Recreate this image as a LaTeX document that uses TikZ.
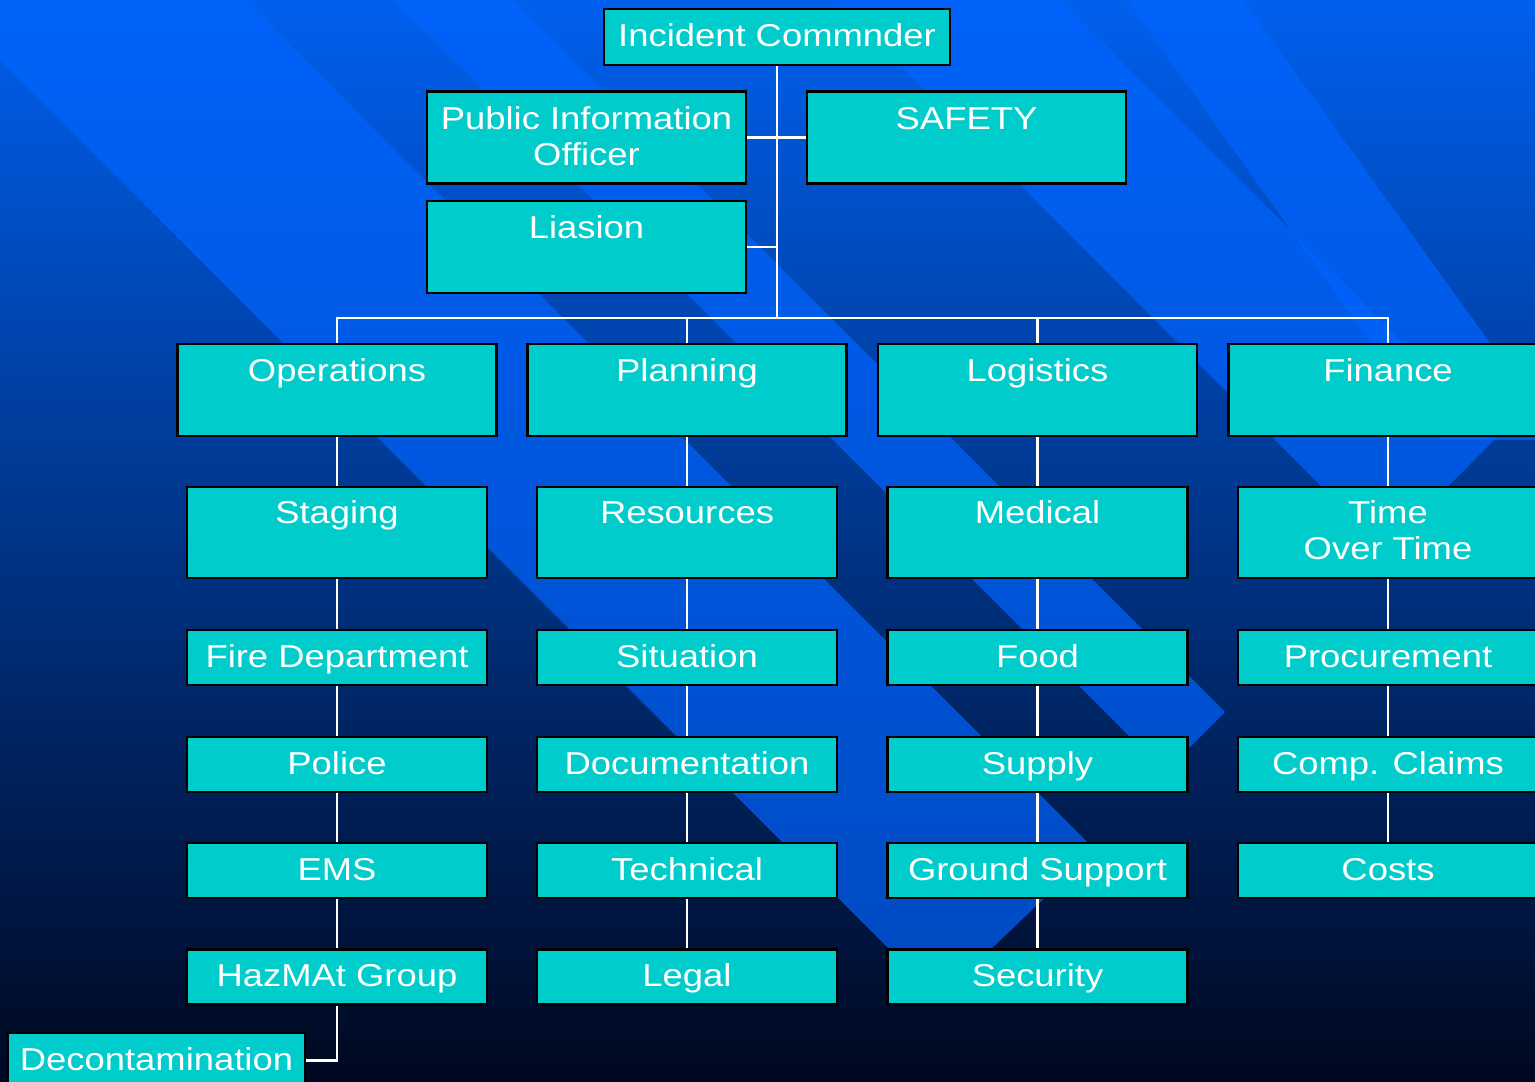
\documentclass[tikz,border=0pt]{standalone}
\usepackage{fontspec}
\setmainfont{Liberation Sans}[FakeStretch=1.15]
\usetikzlibrary{calc}
\definecolor{unitfill}{RGB}{0,204,204}
\definecolor{bgtop}{RGB}{0,96,238}
\definecolor{bgmid}{RGB}{0,48,150}
\definecolor{bgbottom}{RGB}{0,8,32}
\definecolor{bandblue}{RGB}{0,100,255}
\newcommand{\chartfont}{\fontsize{9}{10.2}\selectfont}
\newcommand{\twolines}[2]{\begin{tabular}[t]{@{}c@{}}#1\\#2\end{tabular}}

\tikzset{
  unit/.style={draw=black, line width=0.7pt, fill=unitfill, text=white, inner sep=0pt, font=\chartfont},
  topbox/.style={unit, minimum width=3.46cm, text height=0.37cm, text depth=0.19cm},
  headbox/.style={unit, minimum width=3.19cm, text height=0.38cm, text depth=0.54cm},
  subbox/.style={unit, minimum width=3cm, text height=0.37cm, text depth=0.54cm},
  smallbox/.style={unit, minimum width=3cm, text height=0.37cm, text depth=0.18cm},
  link/.style={white, line width=0.6pt},
  band/.style={fill=bandblue, fill opacity=0.7},
}

\begin{document}
\begin{tikzpicture}[x=0.01cm, y=-0.01cm]
\useasboundingbox (0,0) rectangle (1535,1082);
\clip (0,0) rectangle (1535,1082);
\shade[top color=bgtop, middle color=bgmid, bottom color=bgbottom] (0,0) rectangle (1535,1082);
\fill[band] (-300,-240) -- (0,-245) -- (1095,850) -- (990,950) -- (890,950) -- cycle;
\fill[band] (353,-40) -- (473,-40) -- (1225,712) -- (1190,747) -- (1140,747) -- cycle;
\fill[band] (795,-40) -- (1020,-40) -- (1497,437) -- (1385,550) -- cycle;
\fill[band] (1127,0) -- (1243,0) -- (1560,440) -- (1440,440) -- cycle;

\node[topbox] (ic) at (777,37) {Incident Commnder};
\node[headbox] (pio) at (586.5,137.5) {\twolines{Public Information}{Officer}};
\node[headbox] (safety) at (966.5,137.5) {SAFETY};
\node[headbox] (liaison) at (586.5,247) {Liasion};

\node[headbox] (ops) at (337,390) {Operations};
\node[headbox] (planning) at (687,390) {Planning};
\node[headbox] (logistics) at (1037.5,390) {Logistics};
\node[headbox] (finance) at (1388,390) {Finance};

\node[subbox] (staging) at (337,532.5) {Staging};
\node[subbox] (resources) at (687,532.5) {Resources};
\node[subbox] (medical) at (1037.5,532.5) {Medical};
\node[subbox] (time) at (1388,532.5) {\twolines{Time}{Over Time}};

\node[smallbox] (fire) at (337,657.5) {Fire Department};
\node[smallbox] (situation) at (687,657.5) {Situation};
\node[smallbox] (food) at (1037.5,657.5) {Food};
\node[smallbox] (procurement) at (1388,657.5) {Procurement};

\node[smallbox] (police) at (337,764.5) {Police};
\node[smallbox] (documentation) at (687,764.5) {Documentation};
\node[smallbox] (supply) at (1037.5,764.5) {Supply};
\node[smallbox] (claims) at (1388,764.5) {Comp. Claims};

\node[smallbox] (ems) at (337,870.5) {EMS};
\node[smallbox] (technical) at (687,870.5) {Technical};
\node[smallbox] (ground) at (1037.5,870.5) {Ground Support};
\node[smallbox] (costs) at (1388,870.5) {Costs};

\node[smallbox] (hazmat) at (337,977) {HazMAt Group};
\node[smallbox] (legal) at (687,977) {Legal};
\node[smallbox] (security) at (1037.5,977) {Security};

\node[smallbox, minimum width=2.97cm] (decon) at (156.5,1060.5) {Decontamination};

\coordinate (bus) at (777,318);
\draw[link] (ic.south) -- (bus);
\draw[link] (pio.east) -- (safety.west);
\draw[link] (liaison.east) -- (liaison.east -| bus);
\draw[link] (ops.north) -- (ops.north |- bus) -- (finance.north |- bus) -- (finance.north);
\draw[link] (planning.north) -- (planning.north |- bus);
\draw[link] (logistics.north) -- (logistics.north |- bus);
\foreach \a/\b in {ops/staging, staging/fire, fire/police, police/ems, ems/hazmat,
  planning/resources, resources/situation, situation/documentation, documentation/technical, technical/legal,
  logistics/medical, medical/food, food/supply, supply/ground, ground/security,
  finance/time, time/procurement, procurement/claims, claims/costs}
\draw[link] (\a.south) -- (\b.north);
\draw[link] (hazmat.south) |- (decon.east);
\end{tikzpicture}
\end{document}
